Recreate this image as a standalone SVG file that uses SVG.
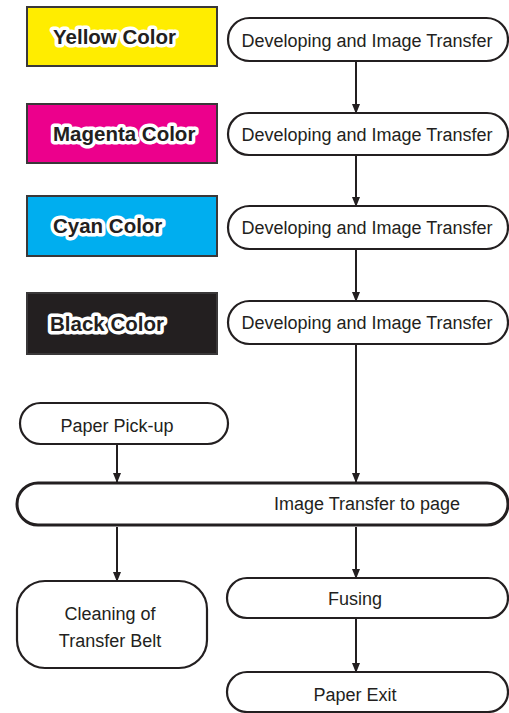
<svg xmlns="http://www.w3.org/2000/svg" width="509" height="713" viewBox="0 0 509 713">
<style>
.col{stroke:#3a3839;stroke-width:2}
.clab{font-family:"Liberation Sans",Arial,sans-serif;font-weight:bold;font-size:20.5px;fill:#231f20;stroke:#fff;stroke-width:7;stroke-linejoin:round;paint-order:stroke}
.pill{fill:#fff;stroke:#231f20;stroke-width:2.2}
.t{font-family:"Liberation Sans",Arial,sans-serif;font-size:18px;fill:#231f20}
.c{stroke:#231f20;stroke-width:2;fill:none}
</style>
<defs>
<marker id="ah" markerUnits="userSpaceOnUse" markerWidth="10" markerHeight="14" refX="9" refY="5" orient="auto" viewBox="0 0 10 10">
<path d="M0,1 L10,5 L0,9 Z" fill="#231f20"/>
</marker>
</defs>
<g id="yellow"><rect x="27" y="7" width="190" height="59" fill="#ffed00" class="col"/><text x="53" y="44" class="clab">Yellow Color</text></g>
<g id="magenta"><rect x="27" y="104" width="190" height="59" fill="#ec008c" class="col"/><text x="53" y="141" class="clab">Magenta Color</text></g>
<g id="cyan"><rect x="27" y="196" width="190" height="60" fill="#00aeef" class="col"/><text x="53" y="233" class="clab">Cyan Color</text></g>
<g id="black"><rect x="27" y="293" width="190" height="61" fill="#231f20" class="col"/><text x="50" y="331" class="clab">Black Color</text></g>
<g id="dev1"><rect x="228" y="18" width="280" height="43" rx="21.5" class="pill"/><text x="367" y="47" text-anchor="middle" class="t">Developing and Image Transfer</text></g>
<g id="dev2"><rect x="228" y="113" width="280" height="42" rx="21" class="pill"/><text x="367" y="141" text-anchor="middle" class="t">Developing and Image Transfer</text></g>
<g id="dev3"><rect x="228" y="206" width="280" height="43" rx="21.5" class="pill"/><text x="367" y="234" text-anchor="middle" class="t">Developing and Image Transfer</text></g>
<g id="dev4"><rect x="228" y="301" width="280" height="43" rx="21.5" class="pill"/><text x="367" y="329" text-anchor="middle" class="t">Developing and Image Transfer</text></g>
<g id="pickup"><rect x="20" y="403" width="208" height="41" rx="20.5" class="pill"/><text x="117" y="432" text-anchor="middle" class="t">Paper Pick-up</text></g>
<g id="transfer"><rect x="17" y="483" width="491" height="42" rx="21" fill="#fff" stroke="#231f20" stroke-width="3"/><text x="367" y="510" text-anchor="middle" class="t">Image Transfer to page</text></g>
<g id="cleaning"><rect x="17" y="581" width="190" height="87" rx="28" class="pill"/><text x="110" y="620" text-anchor="middle" class="t">Cleaning of</text><text x="110" y="647" text-anchor="middle" class="t">Transfer Belt</text></g>
<g id="fusing"><rect x="227" y="578" width="281" height="40" rx="20" class="pill"/><text x="355" y="605" text-anchor="middle" class="t">Fusing</text></g>
<g id="exit"><rect x="227" y="672" width="281" height="40" rx="20" class="pill"/><text x="355" y="701" text-anchor="middle" class="t">Paper Exit</text></g>
<g id="connectors">
<line x1="356" y1="62" x2="356" y2="113" class="c" marker-end="url(#ah)"/>
<line x1="356" y1="156" x2="356" y2="206" class="c" marker-end="url(#ah)"/>
<line x1="356" y1="250" x2="356" y2="301" class="c" marker-end="url(#ah)"/>
<line x1="356" y1="345" x2="356" y2="482" class="c" marker-end="url(#ah)"/>
<line x1="117" y1="445" x2="117" y2="482" class="c" marker-end="url(#ah)"/>
<line x1="117" y1="527" x2="117" y2="581" class="c" marker-end="url(#ah)"/>
<line x1="356" y1="527" x2="356" y2="578" class="c" marker-end="url(#ah)"/>
<line x1="356" y1="619" x2="356" y2="672" class="c" marker-end="url(#ah)"/>
</g>
</svg>
